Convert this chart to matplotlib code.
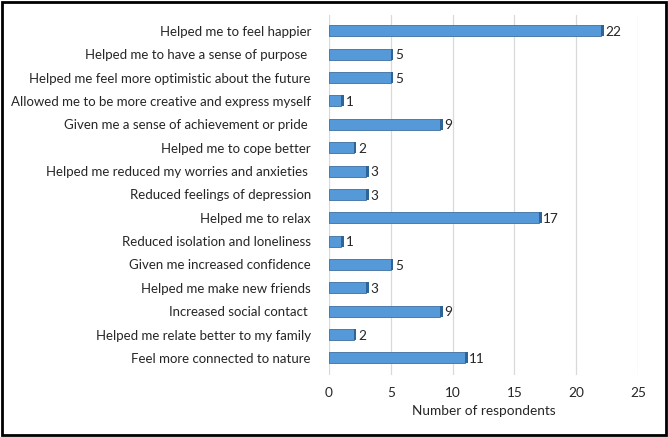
import matplotlib.pyplot as plt
from matplotlib.patches import Rectangle

plt.rcParams['font.family'] = ['Lato', 'DejaVu Sans']

benefits = [
    'Helped me to feel happier',
    'Helped me to have a sense of purpose ',
    'Helped me feel more optimistic about the future',
    'Allowed me to be more creative and express myself',
    'Given me a sense of achievement or pride ',
    'Helped me to cope better',
    'Helped me reduced my worries and anxieties ',
    'Reduced feelings of depression',
    'Helped me to relax',
    'Reduced isolation and loneliness',
    'Given me increased confidence',
    'Helped me make new friends',
    'Increased social contact ',
    'Helped me relate better to my family',
    'Feel more connected to nature',
]
respondents = [22, 5, 5, 1, 9, 2, 3, 3, 17, 1, 5, 3, 9, 2, 11]
xticks = [0, 5, 10, 15, 20, 25]

fig = plt.figure(figsize=(6.68, 4.37), dpi=100)
ax = fig.add_axes([0.4925, 0.142, 0.4625, 0.824])

pos = list(range(len(benefits)))
# main bar face
ax.barh(pos, respondents, height=0.47, color='#5699d8',
        edgecolor='#3f70a0', linewidth=0.6, zorder=3)
# darker end cap to mimic the 3D look
ax.barh(pos, 0.22, left=respondents, height=0.47, color='#2e6496',
        linewidth=0, zorder=3)

for p, v in zip(pos, respondents):
    ax.text(v + 0.35, p + 0.05, str(v), va='center', ha='left',
            fontsize=9.8, color='#262626')

ax.set_xlim(0, 25)
ax.set_ylim(14.73, -0.685)
ax.set_xticks(xticks)
ax.set_yticks(pos)
ax.set_yticklabels(benefits, fontsize=9.5, color='#262626')
ax.tick_params(axis='x', length=0, labelsize=9.8, colors='#262626', pad=9)
ax.tick_params(axis='y', length=0, colors='#262626', pad=13)
ax.xaxis.grid(True, color='#d9d9d9', linewidth=0.9, zorder=0)
ax.set_axisbelow(True)
for s in ax.spines.values():
    s.set_visible(False)
ax.set_xlabel('Number of respondents', fontsize=9.8, color='#262626', labelpad=4)

fig.patches.append(Rectangle((0.003, 0.004), 0.994, 0.992, transform=fig.transFigure,
                             fill=False, edgecolor='black', linewidth=2))

fig.savefig('out.png', dpi=100)
